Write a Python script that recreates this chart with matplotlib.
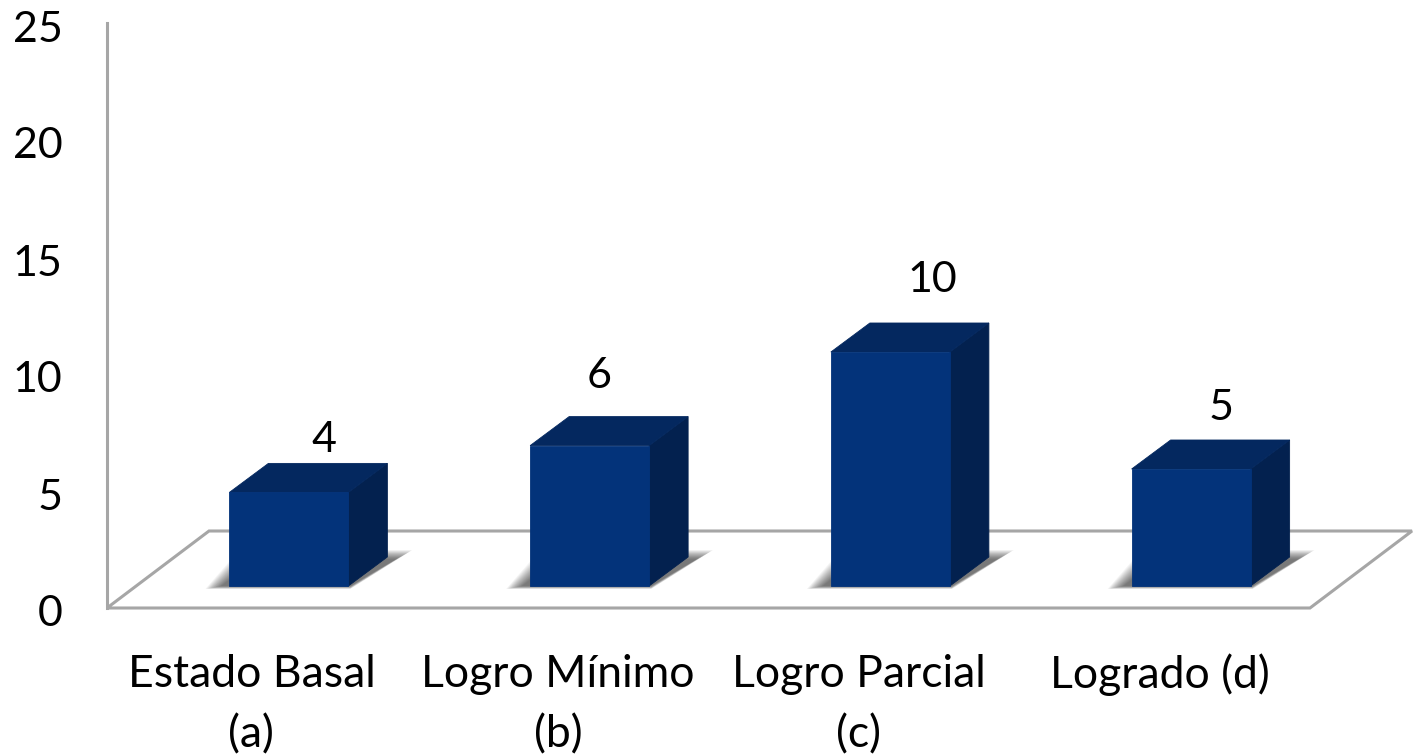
import numpy as np
import matplotlib
matplotlib.use('Agg')
import matplotlib.pyplot as plt
from matplotlib.patches import Polygon
from matplotlib.transforms import ScaledTranslation

plt.rcParams['font.family'] = ['Lato', 'DejaVu Sans']

categories = ['Estado Basal\n(a)', 'Logro Mínimo\n(b)', 'Logro Parcial\n(c)', 'Logrado (d)']
values = [4, 6, 10, 5]
y_ticks = [0, 5, 10, 15, 20, 25]

# hand placed data labels in the original, offsets in pixels from the bar's back top right
label_dx = [-63, -89, -57, -69]
label_dy = [23, 41, 43, 32]

front_col = '#03337A'
top_col = '#04285F'
side_col = '#03214F'
line_col = '#A6A6A6'

W, H = 1414, 754
ax_l, ax_r, ax_t, ax_b = 107, 1310, 23, 608

fig = plt.figure(figsize=(W / 100, H / 100), dpi=100)
ax = fig.add_axes([ax_l / W, 1 - ax_b / H, (ax_r - ax_l) / W, (ax_b - ax_t) / H])
ax.set_xlim(-0.5, 3.5)
ax.set_ylim(0, 25)

px = 4 / (ax_r - ax_l)  # one pixel in x data units
py = 25 / (ax_b - ax_t)  # one pixel in y data units

# floor
floor_x = 102 * px
floor_y = 77 * py
ax.add_patch(Polygon([(-0.5, 0), (3.5, 0), (3.5 + floor_x, floor_y), (-0.5 + floor_x, floor_y)],
                     closed=True, facecolor='white', edgecolor=line_col, lw=2.2,
                     clip_on=False, zorder=1))

bar_w = 119 * px
bar_off = 31.5 * px
base = 22 * py
depth_x = 39 * px
depth_y = 29 * py

for i, v in enumerate(values):
    x0 = i + bar_off - bar_w / 2
    x1 = x0 + bar_w
    b = base
    t = base + v

    # soft shadow on the floor, stacked layers fading outwards
    for k in np.linspace(0, 1, 16):
        sx = 16 * px * k
        sy_top = 9 * py * k
        sy_bot = 3 * py * k
        ax.add_patch(Polygon([(x0 - 24 * px + sx, b - 3 * py + sy_bot),
                              (x1 + 2 * px, b - 3 * py + sy_bot),
                              (x1 + 64 * px - sx, b + 36 * py - sy_top),
                              (x0 + 10 * px + sx, b + 36 * py - sy_top)],
                             closed=True, facecolor='black', edgecolor='none',
                             alpha=0.045, zorder=2, clip_on=False))

    ax.add_patch(Polygon([(x1, b), (x1 + depth_x, b + depth_y),
                          (x1 + depth_x, t + depth_y), (x1, t)],
                         closed=True, facecolor=side_col, edgecolor=side_col, lw=0.6, zorder=3))
    ax.add_patch(Polygon([(x0, t), (x1, t), (x1 + depth_x, t + depth_y), (x0 + depth_x, t + depth_y)],
                         closed=True, facecolor=top_col, edgecolor=top_col, lw=0.6, zorder=3))
    ax.add_patch(Polygon([(x0, b), (x1, b), (x1, t), (x0, t)],
                         closed=True, facecolor=front_col, edgecolor=front_col, lw=0.6, zorder=4))

    ax.text(x1 + depth_x + label_dx[i] * px, t + depth_y + label_dy[i] * py, str(v),
            ha='center', va='center', fontsize=31, color='black', zorder=5)

ax.set_xticks(range(len(categories)))
ax.set_xticklabels(categories, fontsize=32, linespacing=1.57, color='black')
ax.set_yticks(y_ticks)
ax.set_yticklabels([str(t) for t in y_ticks], fontsize=31, color='black')
ax.tick_params(axis='x', length=0, pad=33)
ax.tick_params(axis='y', length=0, pad=32)

# y labels sit a little below their value, first category label a little to the left
for lab in ax.get_yticklabels():
    lab.set_transform(lab.get_transform() + ScaledTranslation(0, -3 / 100, fig.dpi_scale_trans))
first = ax.get_xticklabels()[0]
first.set_transform(first.get_transform() + ScaledTranslation(-6 / 100, 0, fig.dpi_scale_trans))

for s in ['top', 'right', 'bottom']:
    ax.spines[s].set_visible(False)
ax.spines['left'].set_color(line_col)
ax.spines['left'].set_linewidth(2.2)
ax.patch.set_visible(False)

fig.savefig('out.png', dpi=100)
